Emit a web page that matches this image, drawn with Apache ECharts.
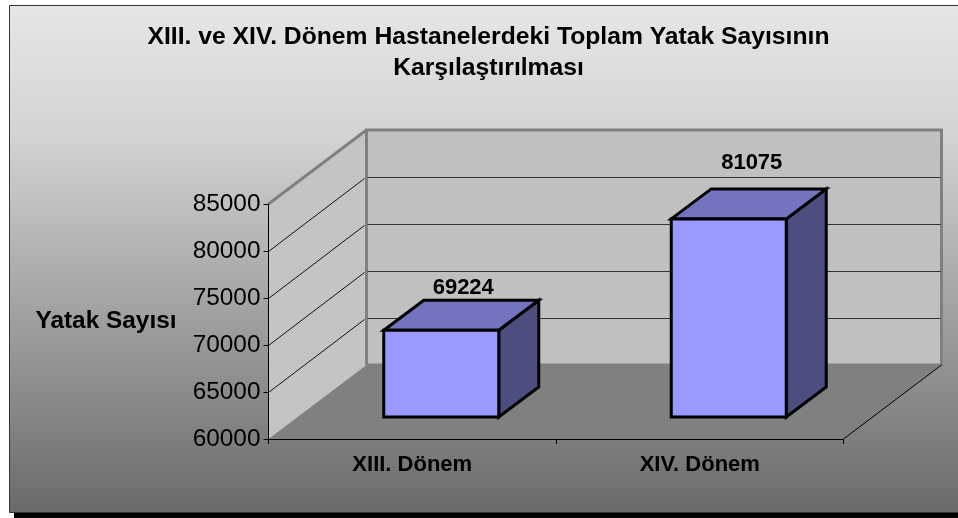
<!DOCTYPE html>
<html><head><meta charset="utf-8">
<style>html,body{margin:0;padding:0;background:#fff}#c{width:958px;height:518px}</style>
<script src="https://cdn.jsdelivr.net/npm/echarts@6/dist/echarts.min.js"></script>
</head><body><div id="c"></div>
<script>
const titleLines = ['XIII. ve XIV. Dönem Hastanelerdeki Toplam Yatak Sayısının', 'Karşılaştırılması'];
const categories = ['XIII. Dönem', 'XIV. Dönem'];
const values = [69224, 81075];
const yTicks = [60000, 65000, 70000, 75000, 80000, 85000];
const yName = 'Yatak Sayısı';

const DX = 98, DY = -74;
const FONT = '"Liberation Sans", Arial, sans-serif';
const LW = {stroke:'#000', lineWidth:1};
const poly = (pts, style) => ({type:'polygon', shape:{points:pts}, style});
const line = (x1,y1,x2,y2,style) => ({type:'line', shape:{x1,y1,x2,y2}, style});

const chart = echarts.init(document.getElementById('c'), null, {renderer:'canvas'});
chart.setOption({
  animation:false,
  backgroundColor:'#fff',
  graphic:[
    {type:'rect', z:-3, shape:{x:14,y:10,width:944,height:508}, style:{fill:'#000'}},
    {type:'rect', z:-2, shape:{x:9.5,y:5.5,width:949,height:507},
      style:{stroke:'#333', lineWidth:1,
        fill:new echarts.graphic.LinearGradient(0,0,0,1,[
          {offset:0,color:'#e6e6e6'},{offset:0.25,color:'#d4d4d4'},{offset:0.5,color:'#b0b0b0'},{offset:1,color:'#6a6a6a'}])}},
    {type:'text', z:10, x:488.5, y:37, style:{text:titleLines[0], fill:'#000', font:'bold 24.7px '+FONT, align:'center', verticalAlign:'middle'}},
    {type:'text', z:10, x:488.5, y:68, style:{text:titleLines[1], fill:'#000', font:'bold 24.7px '+FONT, align:'center', verticalAlign:'middle'}}
  ],
  grid:{left:268.5, top:204, width:575, height:235, containLabel:false},
  xAxis:{type:'category', data:categories, z:5,
    axisLine:{lineStyle:{color:'#000',width:1}}, axisTick:{show:true,length:5,lineStyle:{color:'#000'}},
    axisLabel:{color:'#000', fontFamily:FONT, fontWeight:'bold', fontSize:22, margin:15}},
  yAxis:{type:'value', min:yTicks[0], max:yTicks[yTicks.length-1], interval:yTicks[1]-yTicks[0], z:5,
    name:yName, nameLocation:'middle', nameRotate:0, nameGap:92,
    nameTextStyle:{color:'#000', fontFamily:FONT, fontWeight:'bold', fontSize:24.4},
    axisLine:{show:true,lineStyle:{color:'#000',width:1}}, axisTick:{show:true,length:5,lineStyle:{color:'#000'}},
    splitLine:{show:false},
    axisLabel:{color:'#000', fontFamily:FONT, fontSize:24.4, margin:8, formatter:v=>String(v)}},
  series:[
    {type:'custom', z:1, silent:true, data:[[0]], renderItem:(p,api)=>{
      const c=p.coordSys, l=c.x, r=c.x+c.width, t=c.y, b=c.y+c.height;
      const edge={stroke:'#808080',lineWidth:3};
      return {type:'group',children:[
        poly([[l+DX,t+DY],[r+DX,t+DY],[r+DX,b+DY],[l+DX,b+DY]],{fill:'#c0c0c0',stroke:'#808080',lineWidth:3}),
        poly([[l,b],[r,b],[r+DX,b+DY],[l+DX,b+DY]],{fill:'#808080'}),
        poly([[l,t],[l+DX,t+DY],[l+DX,b+DY],[l,b]],{fill:'#c4c4c4'}),
        line(l,t,l+DX,t+DY,edge),
        line(l+DX,t+DY,l+DX,b+DY,edge),
        line(r,b,r+DX,b+DY,LW)
      ]};
    }},
    {type:'custom', z:2, silent:true, data:yTicks.slice(1,-1).map(v=>[0,v]), renderItem:(p,api)=>{
      const c=p.coordSys, y=Math.round(api.coord([0,api.value(1)])[1])+0.5, l=c.x, r=c.x+c.width;
      return {type:'group',children:[
        line(l,y,l+DX-2,y+DY+1,{stroke:'#111',lineWidth:1}),
        line(l+DX+1,y+DY,r+DX-1,y+DY,{stroke:'#333',lineWidth:1})
      ]};
    }},
    {type:'custom', z:3, silent:true, data:categories.map((n,i)=>[i,values[i]]), renderItem:(p,api)=>{
      const i=api.value(0), val=api.value(1);
      const band=api.size([1,0])[0], w=band*0.4, dx=29, dy=-22, bx=40, by=-30;
      const top=api.coord([i,val]), bot=api.coord([i,yTicks[0]]);
      const x0=top[0]-w/2+dx, x1=x0+w, y0=top[1]+dy, y1=bot[1]+dy;
      const bs={stroke:'#000',lineWidth:3,lineJoin:'miter'};
      const off=[[2,-12],[3,-26]][i];
      return {type:'group',children:[
        poly([[x1,y0],[x1+bx,y0+by],[x1+bx,y1+by],[x1,y1]],Object.assign({fill:'#4d4d80'},bs)),
        poly([[x0,y0],[x0+bx,y0+by],[x1+bx,y0+by],[x1,y0]],Object.assign({fill:'#7373bf'},bs)),
        poly([[x0,y0],[x1,y0],[x1,y1],[x0,y1]],Object.assign({fill:'#9999ff'},bs)),
        {type:'text',x:(x0+x1+bx)/2+off[0],y:y0+by+off[1],
          style:{text:String(val),fill:'#000',font:'bold 22px '+FONT,align:'center',verticalAlign:'middle'}}
      ]};
    }}
  ]
});
</script></body></html>
